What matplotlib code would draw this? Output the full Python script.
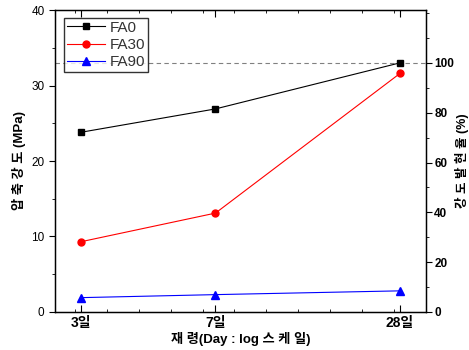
import numpy as np
import matplotlib
matplotlib.use("Agg")
import matplotlib.pyplot as plt
from matplotlib.ticker import FixedLocator, MultipleLocator

plt.rcParams['font.family'] = ['Liberation Sans', 'Noto Sans CJK KR']

days = [3, 7, 28]
day_labels = ['3일', '7일', '28일']
fa0 = [23.8, 26.9, 33.0]
fa30 = [9.3, 13.1, 31.6]
fa90 = [1.9, 2.3, 2.8]
series_names = ['FA0', 'FA30', 'FA90']
ref_strength = 33.0  # 100% reference (FA0, 28 days)
pct_ticks = [0, 20, 40, 60, 80, 100]

fig = plt.figure(figsize=(4.69, 3.5), dpi=100)
ax = fig.add_axes([0.1173, 0.1086, 0.7907, 0.8628])

fwd = lambda x: np.log10(np.maximum(np.asarray(x, dtype=float) - 1, 1e-6))
inv = lambda y: 10 ** np.asarray(y, dtype=float) + 1
ax.set_xscale('function', functions=(fwd, inv))

ax.plot(days, fa0, color='black', marker='s', ms=4.5, lw=0.8, label=series_names[0])
ax.plot(days, fa30, color='red', marker='o', ms=5, lw=0.8, label=series_names[1])
ax.plot(days, fa90, color='blue', marker='^', ms=6, lw=0.8, label=series_names[2])
ax.axhline(ref_strength, color='gray', ls='--', lw=0.8, dashes=(4, 3), zorder=0)

t0, t1 = 0.210, 1.523
ax.set_xlim(inv(t0), inv(t1))
ax.set_ylim(0, 40)
ax.set_xticks(days)
ax.set_xticklabels(day_labels, fontweight='bold', fontsize=10)
minor_t = np.arange(0.281, t1, 0.1128)
ax.xaxis.set_minor_locator(FixedLocator(inv(minor_t)))
ax.yaxis.set_major_locator(MultipleLocator(10))
ax.yaxis.set_minor_locator(MultipleLocator(5))
ax.tick_params(axis='x', which='both', direction='in', top=True)
ax.tick_params(axis='x', which='major', length=5, pad=3)
ax.tick_params(axis='x', which='minor', length=2.5)
ax.tick_params(axis='y', which='major', direction='out', length=4, labelsize=8.5)
ax.tick_params(axis='y', which='minor', direction='out', length=2)
for s in ax.spines.values():
    s.set_linewidth(1.0)

ax.set_ylabel('압 축 강 도 (MPa)', fontsize=9.5, fontweight='bold', labelpad=4)
ax.set_xlabel('재 령(Day : log 스 케 일)', fontsize=9.5, fontweight='bold', labelpad=1)

ax2 = ax.twinx()
ax2.set_ylim(0, 40 / ref_strength * 100)
ax2.yaxis.set_major_locator(FixedLocator(pct_ticks))
ax2.yaxis.set_minor_locator(MultipleLocator(10))
ax2.tick_params(axis='y', which='major', direction='out', length=4, labelsize=8.5, pad=2)
ax2.tick_params(axis='y', which='minor', direction='out', length=2)
for lab in ax2.get_yticklabels():
    lab.set_fontweight('bold')
ax2.set_ylabel('강 도 발 현 율 (%)', fontsize=9, fontweight='bold', rotation=90, labelpad=1)
ax2.yaxis.set_label_position('right')

leg = ax.legend(loc='upper left', bbox_to_anchor=(0.024, 0.975), fontsize=11, frameon=True,
                fancybox=False, edgecolor='black', handlelength=2.5, handletextpad=0.3,
                borderpad=0.2, labelspacing=0.22, borderaxespad=0.0)
leg.get_frame().set_linewidth(1.0)
for t in leg.get_texts():
    t.set_color('#333333')

fig.savefig('out.png', dpi=100)
